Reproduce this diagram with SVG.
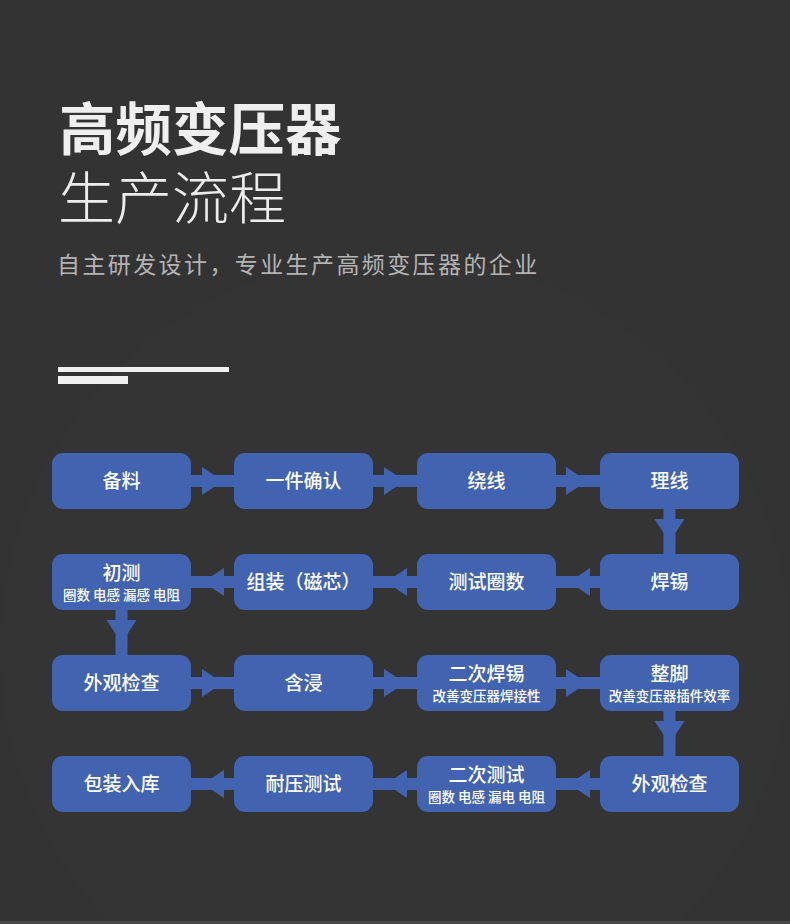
<svg xmlns="http://www.w3.org/2000/svg" width="790" height="924" viewBox="0 0 790 924">
<style>
.bg{fill:#333333}
.node rect{fill:#4263b0}
.conn{fill:#4263b0}
text{font-family:"Noto Sans CJK SC","Noto Sans",sans-serif}
.t{fill:#ffffff;font-size:19px;font-weight:500;text-anchor:middle}
.s{fill:#ffffff;font-size:13.5px;font-weight:500;text-anchor:middle}
.h1{fill:#efefef;font-size:56.5px;font-weight:700}
.h2{fill:#ececec;font-size:57px;font-weight:300}
.sub{fill:#b3b3b3;font-size:23px;font-weight:400;letter-spacing:2.4px}
</style>
<rect class="bg" x="0" y="0" width="790" height="924"/>
<circle cx="395" cy="650" r="395" fill="#ffffff" opacity="0.006"/>
<rect x="0" y="921" width="790" height="3" fill="#4a4a4a"/>

<g id="header">
<text class="h1" x="59" y="149.5">高频变压器</text>
<text class="h2" x="58" y="219">生产流程</text>
<text class="sub" x="57" y="273">自主研发设计，专业生产高频变压器的企业</text>
<rect x="58" y="367" width="171" height="5" fill="#f0f0f0"/>
<rect x="58" y="376" width="70" height="8" fill="#f0f0f0"/>
</g>

<g id="connectors">
<rect class="conn" x="190" y="475" width="45" height="12"/>
<polygon class="conn" points="202,467 223,481 202,495"/>
<rect class="conn" x="372" y="475" width="46" height="12"/>
<polygon class="conn" points="384,467 405,481 384,495"/>
<rect class="conn" x="555" y="475" width="46" height="12"/>
<polygon class="conn" points="566,467 587,481 566,495"/>
<rect class="conn" x="663.5" y="508" width="12" height="47"/>
<polygon class="conn" points="654.5,519 684.5,519 669.5,542"/>
<rect class="conn" x="555" y="576" width="46" height="12"/>
<polygon class="conn" points="590,568 569,582 590,596"/>
<rect class="conn" x="372" y="576" width="46" height="12"/>
<polygon class="conn" points="407,568 386,582 407,596"/>
<rect class="conn" x="190" y="576" width="45" height="12"/>
<polygon class="conn" points="224,568 203,582 224,596"/>
<rect class="conn" x="115.5" y="609" width="12" height="47"/>
<polygon class="conn" points="106.5,620 136.5,620 121.5,643"/>
<rect class="conn" x="190" y="677" width="45" height="12"/>
<polygon class="conn" points="202,669 223,683 202,697"/>
<rect class="conn" x="372" y="677" width="46" height="12"/>
<polygon class="conn" points="384,669 405,683 384,697"/>
<rect class="conn" x="555" y="677" width="46" height="12"/>
<polygon class="conn" points="566,669 587,683 566,697"/>
<rect class="conn" x="663.5" y="710" width="12" height="47"/>
<polygon class="conn" points="654.5,721 684.5,721 669.5,744"/>
<rect class="conn" x="555" y="778" width="46" height="12"/>
<polygon class="conn" points="590,770 569,784 590,798"/>
<rect class="conn" x="372" y="778" width="46" height="12"/>
<polygon class="conn" points="407,770 386,784 407,798"/>
<rect class="conn" x="190" y="778" width="45" height="12"/>
<polygon class="conn" points="224,770 203,784 224,798"/>
</g>

<g id="n1" class="node"><rect x="52" y="453" width="139" height="56" rx="11"/><text class="t" x="121.5" y="488">备料</text></g>
<g id="n2" class="node"><rect x="234" y="453" width="139" height="56" rx="11"/><text class="t" x="303.5" y="488">一件确认</text></g>
<g id="n3" class="node"><rect x="417" y="453" width="139" height="56" rx="11"/><text class="t" x="486.5" y="488">绕线</text></g>
<g id="n4" class="node"><rect x="600" y="453" width="139" height="56" rx="11"/><text class="t" x="669.5" y="488">理线</text></g>

<g id="n5" class="node"><rect x="600" y="554" width="139" height="56" rx="11"/><text class="t" x="669.5" y="589">焊锡</text></g>
<g id="n6" class="node"><rect x="417" y="554" width="139" height="56" rx="11"/><text class="t" x="486.5" y="589">测试圈数</text></g>
<g id="n7" class="node"><rect x="234" y="554" width="139" height="56" rx="11"/><text class="t" x="303.5" y="589">组装（磁芯）</text></g>
<g id="n8" class="node"><rect x="52" y="554" width="139" height="56" rx="11"/><text class="t" x="121.5" y="580">初测</text><text class="s" x="121.5" y="599.5">圈数 电感 漏感 电阻</text></g>

<g id="n9" class="node"><rect x="52" y="655" width="139" height="56" rx="11"/><text class="t" x="121.5" y="690">外观检查</text></g>
<g id="n10" class="node"><rect x="234" y="655" width="139" height="56" rx="11"/><text class="t" x="303.5" y="690">含浸</text></g>
<g id="n11" class="node"><rect x="417" y="655" width="139" height="56" rx="11"/><text class="t" x="486.5" y="681">二次焊锡</text><text class="s" x="486.5" y="700.5">改善变压器焊接性</text></g>
<g id="n12" class="node"><rect x="600" y="655" width="139" height="56" rx="11"/><text class="t" x="669.5" y="681">整脚</text><text class="s" x="669.5" y="700.5">改善变压器插件效率</text></g>

<g id="n13" class="node"><rect x="600" y="756" width="139" height="56" rx="11"/><text class="t" x="669.5" y="791">外观检查</text></g>
<g id="n14" class="node"><rect x="417" y="756" width="139" height="56" rx="11"/><text class="t" x="486.5" y="782">二次测试</text><text class="s" x="486.5" y="801.5">圈数 电感 漏电 电阻</text></g>
<g id="n15" class="node"><rect x="234" y="756" width="139" height="56" rx="11"/><text class="t" x="303.5" y="791">耐压测试</text></g>
<g id="n16" class="node"><rect x="52" y="756" width="139" height="56" rx="11"/><text class="t" x="121.5" y="791">包装入库</text></g>
</svg>
